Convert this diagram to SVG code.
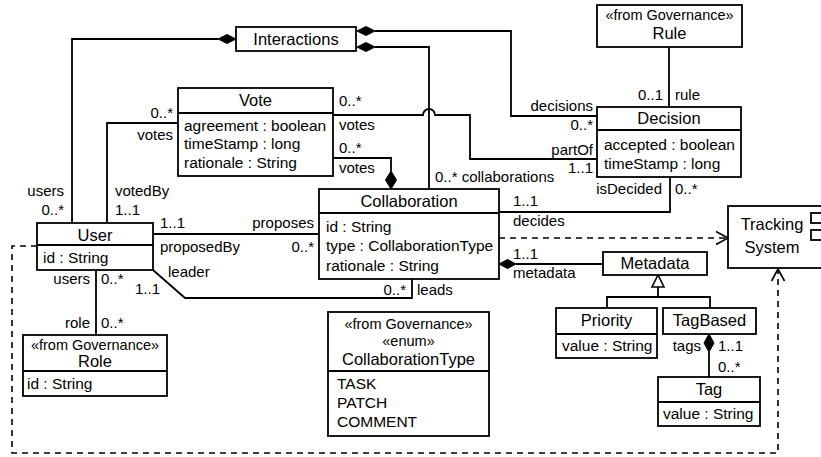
<svg xmlns="http://www.w3.org/2000/svg" width="821" height="457" viewBox="0 0 821 457">
<style>
text{font-family:"Liberation Sans",Arial,sans-serif;fill:#000}
.n{font-size:16.5px;text-anchor:middle}
.a{font-size:15.5px}
.l{font-size:15px}
.r{text-anchor:end}
.s{font-size:14.5px;text-anchor:middle}
.b{fill:#fff;stroke:#000;stroke-width:1.8}
.ln{fill:none;stroke:#000;stroke-width:1.8}
.d{fill:none;stroke:#000;stroke-width:1.6;stroke-dasharray:6 5}
.dm{fill:#000;stroke:#000;stroke-width:1}
.tri{fill:#fff;stroke:#000;stroke-width:1.6}
.oa{fill:none;stroke:#000;stroke-width:1.6}
</style>
<rect width="821" height="457" fill="#fff"/>
<g id="connectors">
<!-- Interactions - User -->
<polyline class="ln" points="218,39 72,39 72,223"/>
<polygon class="dm" points="236,39 227,34.5 218,39 227,43.5"/>
<text class="l r" x="64" y="196">users</text>
<text class="l r" x="64" y="215">0..*</text>
<!-- Interactions - Decision -->
<polyline class="ln" points="375,31 511,31 511,116 597,116"/>
<polygon class="dm" points="357,31 366,26.5 375,31 366,35.5"/>
<text class="l r" x="593" y="111">decisions</text>
<text class="l r" x="593" y="130">0..*</text>
<!-- Interactions - Collaboration -->
<polyline class="ln" points="375,47 429,47 429,189"/>
<polygon class="dm" points="357,47 366,42.5 375,47 366,51.5"/>
<text class="l" x="435" y="182">0..* collaborations</text>
<!-- Rule - Decision -->
<line class="ln" x1="669" y1="47" x2="669" y2="107"/>
<text class="l r" x="663" y="100">0..1</text>
<text class="l" x="675" y="100">rule</text>
<!-- Vote - Decision -->
<path class="ln" d="M333,115 H423 A6,6 0 0 1 435,115 H470 V159 H597"/>
<text class="l" x="339" y="106">0..*</text>
<text class="l" x="339" y="130">votes</text>
<text class="l r" x="593" y="155">partOf</text>
<text class="l r" x="593" y="173">1..1</text>
<!-- Vote - Collaboration -->
<polyline class="ln" points="333,158 391,158 391,171"/>
<polygon class="dm" points="391,189 385.5,180 391,171 396.5,180"/>
<text class="l" x="339" y="153">0..*</text>
<text class="l" x="339" y="173">votes</text>
<!-- User - Vote -->
<polyline class="ln" points="107,223 107,123 178,123"/>
<text class="l r" x="173" y="118">0..*</text>
<text class="l r" x="173" y="140">votes</text>
<text class="l" x="115" y="196">votedBy</text>
<text class="l" x="115" y="215">1..1</text>
<!-- User - Collaboration proposes -->
<line class="ln" x1="153" y1="234" x2="319" y2="234"/>
<text class="l" x="160" y="228">1..1</text>
<text class="l r" x="314" y="228">proposes</text>
<text class="l" x="160" y="252">proposedBy</text>
<text class="l r" x="314" y="252">0..*</text>
<!-- User - Collaboration leads -->
<polyline class="ln" points="153,270 185,298 412,298 412,279"/>
<text class="l" x="168" y="277">leader</text>
<text class="l r" x="160" y="294">1..1</text>
<text class="l r" x="406" y="295">0..*</text>
<text class="l" x="417" y="295">leads</text>
<!-- User - Role -->
<line class="ln" x1="96" y1="270" x2="96" y2="335"/>
<text class="l r" x="90" y="284">users</text>
<text class="l" x="101" y="284">0..*</text>
<text class="l r" x="90" y="328">role</text>
<text class="l" x="101" y="328">0..*</text>
<!-- Collaboration - Decision -->
<polyline class="ln" points="499,212 670,212 670,177"/>
<text class="l" x="513" y="206">1..1</text>
<text class="l" x="513" y="226">decides</text>
<text class="l r" x="662" y="194">isDecided</text>
<text class="l" x="675" y="194">0..*</text>
<!-- Collaboration - Metadata -->
<line class="ln" x1="516" y1="264" x2="603" y2="264"/>
<polygon class="dm" points="499,264 507.5,259.5 516,264 507.5,268.5"/>
<text class="l" x="513" y="259">1..1</text>
<text class="l" x="513" y="278">metadata</text>
<!-- Generalization -->
<polyline class="ln" points="658,287 658,297"/>
<polyline class="ln" points="607,308 607,297 710,297 710,308"/>
<polygon class="tri" points="658,275 652,287 664,287"/>
<!-- TagBased - Tag -->
<line class="ln" x1="709" y1="352" x2="709" y2="377"/>
<polygon class="dm" points="709,334 714,343 709,352 704,343"/>
<text class="l r" x="701" y="351">tags</text>
<text class="l" x="718" y="351">1..1</text>
<text class="l" x="718" y="372">0..*</text>
<!-- Collaboration - TrackingSystem dashed -->
<line class="d" x1="499" y1="238" x2="727" y2="238"/>
<polyline class="oa" points="716,231.5 728,238 716,244.5"/>
<!-- User - TrackingSystem dashed -->
<polyline class="d" points="37,246 12,246 12,453 778,453 778,270"/>
<polyline class="oa" points="771.5,281 778,269 784.5,281"/>
</g>
<g id="Interactions">
<rect class="b" x="236" y="27" width="120" height="24"/>
<text class="n" x="296" y="45">Interactions</text>
</g>
<g id="Rule">
<rect class="b" x="597" y="5" width="145" height="42"/>
<text class="s" x="669.5" y="20">«from Governance»</text>
<text class="n" x="669.5" y="39">Rule</text>
</g>
<g id="Vote">
<rect class="b" x="178" y="88" width="155" height="88"/>
<line class="ln" x1="178" y1="113" x2="333" y2="113"/>
<text class="n" x="255.5" y="106">Vote</text>
<text class="a" x="184" y="131">agreement : boolean</text>
<text class="a" x="184" y="149">timeStamp : long</text>
<text class="a" x="184" y="168">rationale : String</text>
</g>
<g id="Decision">
<rect class="b" x="597" y="107" width="144" height="70"/>
<line class="ln" x1="597" y1="130" x2="741" y2="130"/>
<text class="n" x="669" y="124">Decision</text>
<text class="a" x="604" y="150">accepted : boolean</text>
<text class="a" x="604" y="169">timeStamp : long</text>
</g>
<g id="User">
<rect class="b" x="37" y="223" width="116" height="47"/>
<line class="ln" x1="37" y1="245" x2="153" y2="245"/>
<text class="n" x="95" y="241">User</text>
<text class="a" x="43" y="263">id : String</text>
</g>
<g id="Collaboration">
<rect class="b" x="319" y="189" width="180" height="90"/>
<line class="ln" x1="319" y1="213" x2="499" y2="213"/>
<text class="n" x="409" y="207">Collaboration</text>
<text class="a" x="326" y="232">id : String</text>
<text class="a" x="326" y="251">type : CollaborationType</text>
<text class="a" x="326" y="271">rationale : String</text>
</g>
<g id="Role">
<rect class="b" x="23" y="335" width="144" height="61"/>
<line class="ln" x1="23" y1="371" x2="167" y2="371"/>
<text class="s" x="95" y="350">«from Governance»</text>
<text class="n" x="95" y="367">Role</text>
<text class="a" x="27" y="389">id : String</text>
</g>
<g id="CollaborationType">
<rect class="b" x="328" y="312" width="161" height="124"/>
<line class="ln" x1="328" y1="371" x2="489" y2="371"/>
<text class="s" x="408.5" y="329">«from Governance»</text>
<text class="s" x="408.5" y="346">«enum»</text>
<text class="n" x="408.5" y="365">CollaborationType</text>
<text class="a" x="337" y="389">TASK</text>
<text class="a" x="337" y="408">PATCH</text>
<text class="a" x="337" y="427">COMMENT</text>
</g>
<g id="Metadata">
<rect class="b" x="603" y="252" width="104" height="23"/>
<text class="n" x="655" y="269">Metadata</text>
</g>
<g id="Priority">
<rect class="b" x="556" y="308" width="101" height="50"/>
<line class="ln" x1="556" y1="334" x2="657" y2="334"/>
<text class="n" x="606.5" y="326">Priority</text>
<text class="a" x="562" y="351">value : String</text>
</g>
<g id="TagBased">
<rect class="b" x="663" y="308" width="93" height="26"/>
<text class="n" x="709.5" y="326">TagBased</text>
</g>
<g id="Tag">
<rect class="b" x="658" y="377" width="102" height="49"/>
<line class="ln" x1="658" y1="402" x2="760" y2="402"/>
<text class="n" x="709" y="395">Tag</text>
<text class="a" x="663" y="419">value : String</text>
</g>
<g id="TrackingSystem">
<rect class="b" x="728" y="206" width="110" height="62"/>
<rect class="b" x="811" y="213" width="16" height="10"/>
<rect class="b" x="811" y="230" width="16" height="10"/>
<text class="n" x="772" y="230">Tracking</text>
<text class="n" x="772" y="253">System</text>
</g>
</svg>
